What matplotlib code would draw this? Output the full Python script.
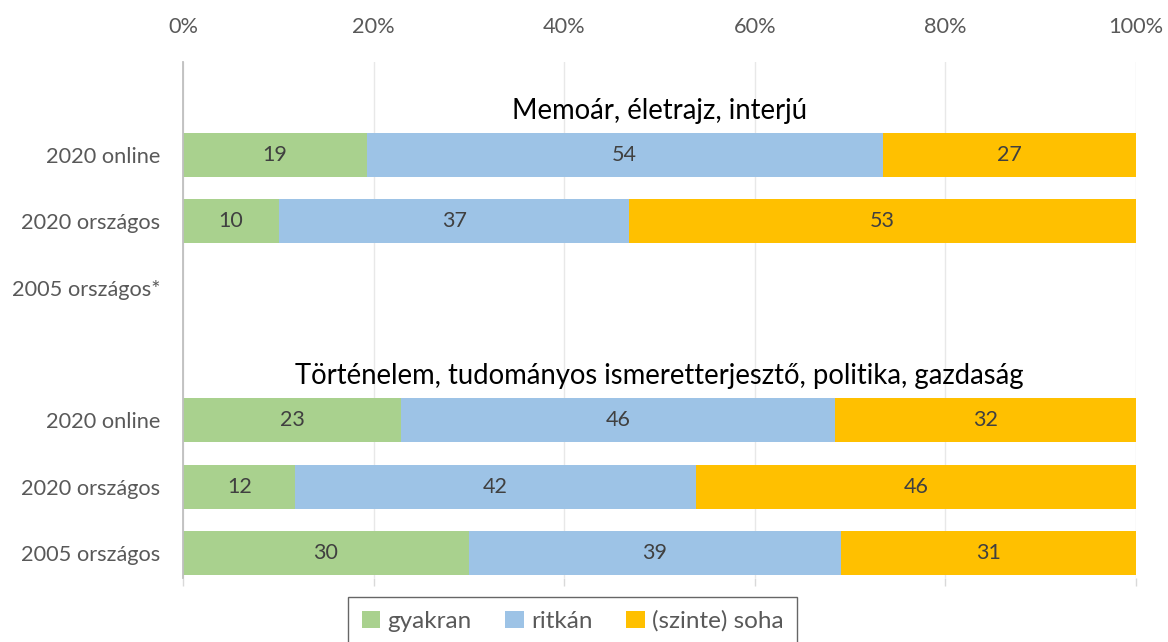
import numpy as np
import matplotlib
matplotlib.use("Agg")
import matplotlib.pyplot as plt
from matplotlib.patches import Patch

plt.rcParams['font.family'] = ['Lato', 'DejaVu Sans']

categories = ["2020 online", "2020 országos", "2005 országos*", "",
              "2020 online", "2020 országos", "2005 országos"]
series_names = ["gyakran", "ritkán", "(szinte) soha"]
gyakran = [19.3, 10.1, np.nan, np.nan, 22.9, 11.8, 30.0]
ritkan = [54.2, 36.7, np.nan, np.nan, 45.6, 42.0, 39.0]
soha = [26.6, 53.2, np.nan, np.nan, 31.6, 46.2, 31.0]
labels_gy = ["19", "10", "", "", "23", "12", "30"]
labels_ri = ["54", "37", "", "", "46", "42", "39"]
labels_so = ["27", "53", "", "", "32", "46", "31"]
group_titles = ["Memoár, életrajz, interjú",
                "Történelem, tudományos ismeretterjesztő, politika, gazdaság"]
group_title_rows = [0, 4]
xticks = [0, 20, 40, 60, 80, 100]
xtick_labels = ["0%", "20%", "40%", "60%", "80%", "100%"]

colors = ["#A9D18E", "#9DC3E6", "#FFC000"]

W, H = 1168, 642
fig = plt.figure(figsize=(W / 100, H / 100), dpi=100)
ax = fig.add_axes([183 / W, 1 - 578 / H, (1136 - 183) / W, (578 - 62) / H])

y = np.arange(len(categories))
data = np.array([gyakran, ritkan, soha], dtype=float)
tot = np.nansum(data, axis=0)
tot[tot == 0] = 1
norm = data / tot * 100
all_labels = [labels_gy, labels_ri, labels_so]

bar_h = 0.663
left = np.zeros(len(categories))
for i in range(3):
    vals = np.nan_to_num(norm[i])
    mask = ~np.isnan(norm[i])
    ax.barh(y[mask], vals[mask], left=left[mask], height=bar_h,
            color=colors[i], zorder=3, label=series_names[i])
    for j in range(len(categories)):
        if mask[j] and all_labels[i][j]:
            ax.text(left[j] + vals[j] / 2, y[j], all_labels[i][j],
                    ha='center', va='center', fontsize=15.5, color='#404040', zorder=4)
    left = left + vals

for t, r in zip(group_titles, group_title_rows):
    ax.text(50, r - bar_h / 2 - 0.21, t, ha='center', va='baseline',
            fontsize=19.8, color='black', zorder=5)

ax.set_xlim(0, 100)
ax.set_ylim(6.377, -1.402)
ax.set_yticks(y)
ax.set_yticklabels(categories)
ax.set_xticks(xticks)
ax.set_xticklabels(xtick_labels)
ax.tick_params(axis='y', length=0, pad=16.5, labelsize=15.7, labelcolor='#595959')
ax.tick_params(axis='x', top=False, labeltop=True, bottom=True, labelbottom=False,
               length=6, width=1, color='#D9D9D9', direction='out',
               pad=12, labelsize=15.7, labelcolor='#595959')
ax.grid(axis='x', color='#E8E8E8', linewidth=1, zorder=0)
for s in ['top', 'right', 'bottom']:
    ax.spines[s].set_visible(False)
ax.spines['left'].set_color('#BFBFBF')
ax.spines['left'].set_linewidth(1.3)
ax.spines['left'].set_zorder(6)

handles = [Patch(facecolor=c, edgecolor='none') for c in colors]
leg = fig.legend(handles, series_names, loc='upper center',
                 bbox_to_anchor=(572.5 / W, 1 - 597 / H), ncol=3,
                 frameon=True, fancybox=False, fontsize=17.5,
                 handlelength=0.75, handleheight=0.75, handletextpad=0.3,
                 columnspacing=1.4, borderpad=0.55, borderaxespad=0,
                 labelcolor='#595959')
leg.get_frame().set_edgecolor('#404040')
leg.get_frame().set_linewidth(1)

fig.savefig("out.png", dpi=100)
